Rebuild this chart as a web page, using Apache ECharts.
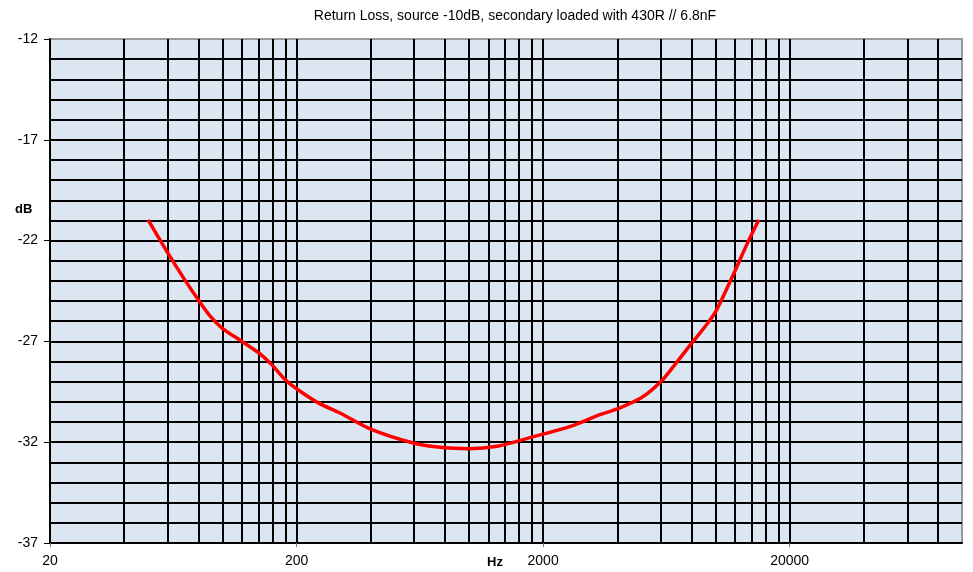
<!DOCTYPE html>
<html><head><meta charset="utf-8">
<script src="https://cdn.jsdelivr.net/npm/echarts@6/dist/echarts.min.js"></script>
<style>html,body{margin:0;padding:0;background:#fff}#c{width:973px;height:572px}</style>
</head><body><div id="c"></div>
<script>
// Frequency (Hz) and return loss (dB)
const freqHz = [50, 60, 70, 80, 90, 100, 120, 145, 160, 180, 200, 245, 300, 400, 600, 800, 1000, 1300, 1800, 2600, 3400, 4000, 5000, 6000, 6800, 8000, 9300, 10100, 11800, 13400, 15000];
const returnLossDb = [-20.97, -22.6, -23.9, -24.95, -25.8, -26.35, -27.0, -27.7, -28.2, -28.9, -29.35, -30.05, -30.55, -31.35, -32.05, -32.28, -32.32, -32.2, -31.75, -31.2, -30.63, -30.35, -29.8, -29.0, -28.2, -27.1, -26.1, -25.45, -23.7, -22.2, -20.97];

// Tick labels and grid positions
const xLabelTicks = [20, 200, 2000, 20000];
const xGridTicks = [40, 60, 80, 100, 120, 140, 160, 180, 200, 400, 600, 800, 1000, 1200, 1400, 1600, 1800, 2000, 4000, 6000, 8000, 10000, 12000, 14000, 16000, 18000, 20000, 40000, 60000, 80000];
const yLabelTicks = [-37, -32, -27, -22, -17, -12];
const yGridTicks = [-36, -35, -34, -33, -32, -31, -30, -29, -28, -27, -26, -25, -24, -23, -22, -21, -20, -19, -18, -17, -16, -15, -14, -13];

const titleText = 'Return Loss, source -10dB, secondary loaded with 430R // 6.8nF';
const xName = 'Hz';
const yName = 'dB';

const FONT = 'Liberation Sans, Arial, sans-serif';
const chart = echarts.init(document.getElementById('c'), null, {renderer: 'canvas'});
const xMin = 20, xMax = 100000, yMin = -37, yMax = -12;

chart.setOption({
  animation: false,
  backgroundColor: '#ffffff',
  title: {
    text: titleText, left: 510, top: 4, textAlign: 'center',
    textStyle: {fontFamily: FONT, fontSize: 14, fontWeight: 'normal', color: '#000'}
  },
  grid: {
    left: 50, right: 11, top: 39, bottom: 29,
    show: true, backgroundColor: '#dce6f2', borderColor: '#9a9a9a', borderWidth: 2
  },
  xAxis: [
    {
      type: 'log', logBase: 10, min: xMin, max: xMax, position: 'bottom',
      axisLine: {show: true, onZero: false, lineStyle: {color: '#000', width: 2}},
      axisTick: {show: true, customValues: xLabelTicks, length: 4, lineStyle: {color: '#777', width: 1}},
      axisLabel: {customValues: xLabelTicks, margin: 11, fontFamily: FONT, fontSize: 14, color: '#000',
                  formatter: v => String(v)},
      splitLine: {show: false}, minorTick: {show: false}, minorSplitLine: {show: false}
    },
    {
      type: 'log', logBase: 10, min: xMin, max: xMax, position: 'top',
      axisLine: {show: false}, axisLabel: {show: false},
      axisTick: {show: false, customValues: xGridTicks},
      splitLine: {show: true, lineStyle: {color: '#000', width: 2}}
    }
  ],
  yAxis: [
    {
      type: 'value', min: yMin, max: yMax, position: 'left',
      axisLine: {show: true, onZero: false, lineStyle: {color: '#000', width: 2}},
      axisTick: {show: true, customValues: yLabelTicks, length: 6, lineStyle: {color: '#000', width: 1}},
      axisLabel: {customValues: yLabelTicks, margin: 12, fontFamily: FONT, fontSize: 14, color: '#000'},
      splitLine: {show: false}
    },
    {
      type: 'value', min: yMin, max: yMax, position: 'right',
      axisLine: {show: false}, axisLabel: {show: false},
      axisTick: {show: false, customValues: yGridTicks},
      splitLine: {show: true, lineStyle: {color: '#000', width: 2}}
    }
  ],
  graphic: [
    {type: 'text', left: 15, top: 203, style: {text: yName, font: 'bold 13px ' + FONT, fill: '#000'}},
    {type: 'text', left: 487, top: 556, style: {text: xName, font: 'bold 13px ' + FONT, fill: '#000'}}
  ],
  series: [{
    type: 'line', xAxisIndex: 0, yAxisIndex: 0,
    data: freqHz.map((f, i) => [f, returnLossDb[i]]),
    smooth: 0.3, showSymbol: false, symbol: 'none',
    lineStyle: {color: '#ff0000', width: 3.5}, z: 5
  }]
});
</script>
</body></html>
